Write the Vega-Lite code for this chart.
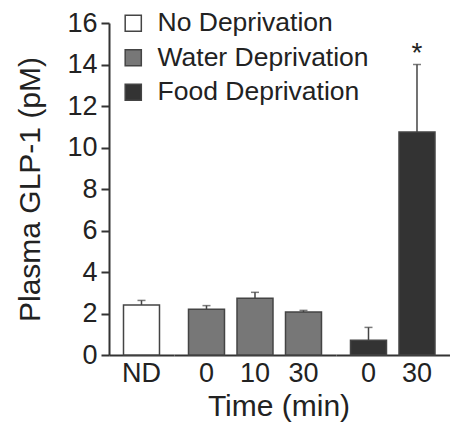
{
  "$schema": "https://vega.github.io/schema/vega-lite/v6.json",
  "padding": {"left": 15, "top": 9, "right": 5, "bottom": 5},
  "background": "white",
  "data": {
    "values": [
      {"group": "ND", "time": "ND", "cond": "No Deprivation", "glp1": 2.41, "err_top": 2.63, "sig": ""},
      {"group": "Water", "time": "0", "cond": "Water Deprivation", "glp1": 2.2, "err_top": 2.38, "sig": ""},
      {"group": "Water", "time": "10", "cond": "Water Deprivation", "glp1": 2.73, "err_top": 3.02, "sig": ""},
      {"group": "Water", "time": "30", "cond": "Water Deprivation", "glp1": 2.07, "err_top": 2.15, "sig": ""},
      {"group": "Food", "time": "0", "cond": "Food Deprivation", "glp1": 0.71, "err_top": 1.33, "sig": ""},
      {"group": "Food", "time": "30", "cond": "Food Deprivation", "glp1": 10.75, "err_top": 14.0, "sig": "*"}
    ]
  },
  "facet": {
    "column": {
      "field": "group",
      "type": "nominal",
      "sort": ["ND", "Water", "Food"],
      "header": {
        "labels": false,
        "title": "Time (min)",
        "titleOrient": "bottom",
        "titleFont": "Liberation Sans",
        "titleFontSize": 30,
        "titleFontWeight": "normal",
        "titleColor": "#222222",
        "titlePadding": -4
      }
    }
  },
  "spacing": 0,
  "resolve": {"scale": {"x": "independent"}},
  "spec": {
    "width": {"step": 48.5},
    "height": 332,
    "encoding": {
      "x": {
        "field": "time",
        "type": "nominal",
        "sort": null,
        "title": null,
        "scale": {"paddingInner": 0.258, "paddingOuter": 0.299},
        "axis": {"ticks": false, "labelAngle": 0, "labelPadding": 5}
      }
    },
    "layer": [
      {
        "mark": {"type": "bar", "stroke": "#444444", "strokeWidth": 1.5},
        "encoding": {
          "y": {
            "field": "glp1",
            "type": "quantitative",
            "title": "Plasma GLP-1 (pM)",
            "scale": {"domain": [0, 16], "nice": false},
            "axis": {"tickCount": 8, "grid": false, "tickSize": 8, "labelPadding": 4, "titlePadding": 21}
          },
          "color": {
            "field": "cond",
            "type": "nominal",
            "scale": {
              "domain": ["No Deprivation", "Water Deprivation", "Food Deprivation"],
              "range": ["#ffffff", "#777777", "#333333"]
            },
            "legend": {
              "title": null,
              "orient": "none",
              "legendX": 11,
              "legendY": -13,
              "symbolType": "square",
              "symbolSize": 260,
              "symbolStrokeColor": "#444444",
              "symbolStrokeWidth": 1.5,
              "labelFont": "Liberation Sans",
              "labelFontSize": 26.5,
              "labelColor": "#222222",
              "labelLimit": 0,
              "labelOffset": 11,
              "rowPadding": 7.5,
              "padding": 0
            }
          }
        }
      },
      {
        "mark": {"type": "rule", "color": "#444444", "strokeWidth": 1.5},
        "encoding": {
          "y": {"field": "glp1", "type": "quantitative"},
          "y2": {"field": "err_top"}
        }
      },
      {
        "mark": {"type": "tick", "color": "#444444", "size": 8, "thickness": 1.5},
        "encoding": {
          "y": {"field": "err_top", "type": "quantitative"}
        }
      },
      {
        "mark": {"type": "text", "font": "Liberation Sans", "fontSize": 28, "color": "#222222", "baseline": "alphabetic", "dy": -3},
        "encoding": {
          "y": {"field": "err_top", "type": "quantitative"},
          "text": {"field": "sig"}
        }
      }
    ]
  },
  "config": {
    "view": {"stroke": null},
    "axis": {
      "domainColor": "#333333",
      "domainWidth": 2,
      "tickColor": "#333333",
      "tickWidth": 2,
      "labelFont": "Liberation Sans",
      "labelFontSize": 27,
      "labelColor": "#222222",
      "titleFont": "Liberation Sans",
      "titleFontSize": 30,
      "titleFontWeight": "normal",
      "titleColor": "#222222"
    }
  }
}
